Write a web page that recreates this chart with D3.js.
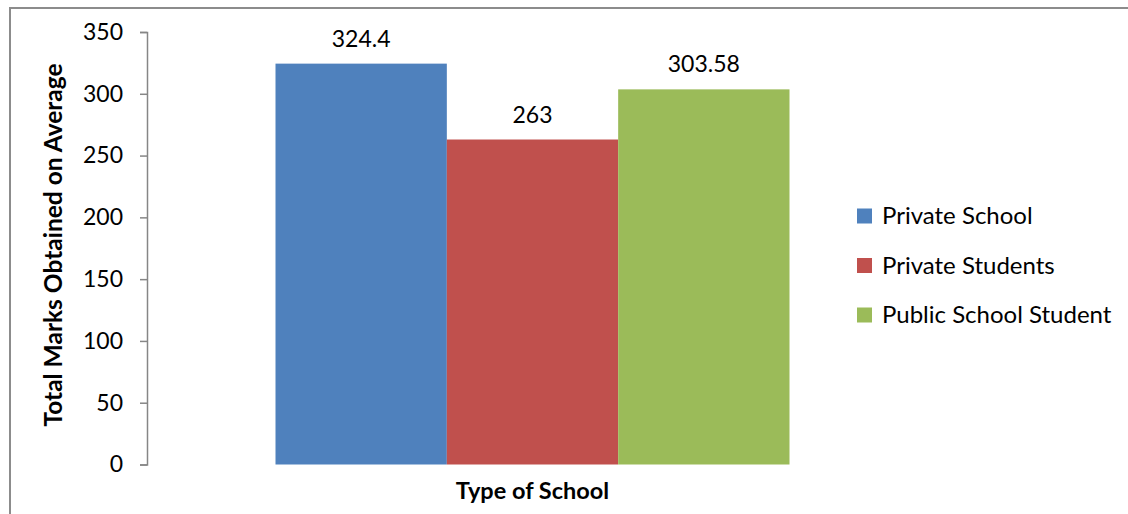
<!DOCTYPE html>
<html>
<head>
<meta charset="utf-8">
<script src="https://cdn.jsdelivr.net/npm/d3@7"></script>
<style>
  body { margin: 0; background: #fff; }
  text { font-family: Lato, "Open Sans", sans-serif; fill: #000; }
</style>
</head>
<body>
<div id="chart"></div>
<script>
const categories = ["Type of School"];
const seriesNames = ["Private School", "Private Students", "Public School Student"];
const seriesValues = [324.4, 263, 303.58];
const seriesLabels = ["324.4", "263", "303.58"];
const yTicks = [0, 50, 100, 150, 200, 250, 300, 350];
const colors = ["#4F81BD", "#C0504D", "#9BBB59"];

const W = 1128, H = 514;
const plot = {left: 147, right: 918, top: 32, bottom: 464.5};

const svg = d3.select("#chart").append("svg")
    .attr("width", W).attr("height", H);

// outer chart border
svg.append("rect")
    .attr("x", 10).attr("y", 8)
    .attr("width", W + 20).attr("height", H + 20)
    .attr("fill", "none").attr("stroke", "#8c8c8c").attr("stroke-width", 2);

const y = d3.scaleLinear().domain([0, 350]).range([plot.bottom, plot.top]);
const x0 = d3.scaleBand().domain(categories).range([plot.left, plot.right])
    .paddingInner(0).paddingOuter(0.25);
const x1 = d3.scaleBand().domain(seriesNames).range([0, x0.bandwidth()]);

// y axis
const yAxis = svg.append("g")
    .attr("transform", `translate(${plot.left},0)`)
    .call(d3.axisLeft(y).tickValues(yTicks).tickSize(7).tickPadding(17).tickSizeOuter(7));
yAxis.select(".domain").attr("stroke", "#868686").attr("stroke-width", 1.5);
yAxis.selectAll(".tick line").attr("stroke", "#868686").attr("stroke-width", 1.5);
yAxis.selectAll(".tick text").style("font-size", "23px").attr("fill", "#000");

// bars
const group = svg.append("g").selectAll("g")
    .data(categories).enter().append("g")
    .attr("transform", d => `translate(${x0(d)},0)`);

const barData = seriesNames.map((s, i) => ({name: s, value: seriesValues[i], label: seriesLabels[i], color: colors[i]}));

group.selectAll("rect")
    .data(barData)
    .enter().append("rect")
    .attr("x", d => x1(d.name))
    .attr("y", d => y(d.value))
    .attr("width", x1.bandwidth())
    .attr("height", d => y(0) - y(d.value))
    .attr("fill", d => d.color);

group.selectAll("text.value")
    .data(barData)
    .enter().append("text")
    .attr("class", "value")
    .attr("x", d => x1(d.name) + x1.bandwidth() / 2)
    .attr("y", d => y(d.value) - 17)
    .attr("text-anchor", "middle")
    .style("font-size", "23px")
    .text(d => d.label);

// axis titles
svg.append("text")
    .attr("x", x0(categories[0]) + x0.bandwidth() / 2)
    .attr("y", 499)
    .attr("text-anchor", "middle")
    .style("font-size", "23.5px").style("font-weight", "bold")
    .text("Type of School");

svg.append("text")
    .attr("transform", `translate(62,245) rotate(-90)`)
    .attr("text-anchor", "middle")
    .style("font-size", "24.5px").style("font-weight", "bold")
    .text("Total Marks Obtained on Average");

// legend
const legend = svg.append("g").selectAll("g")
    .data(seriesNames).enter().append("g")
    .attr("transform", (d, i) => `translate(857,${216 + i * 49.5})`);
legend.append("rect")
    .attr("x", 0).attr("y", -7.5)
    .attr("width", 15).attr("height", 15)
    .attr("fill", (d, i) => colors[i]);
legend.append("text")
    .attr("x", 25).attr("y", 0).attr("dy", "0.35em")
    .style("font-size", "24px")
    .text(d => d);
</script>
</body>
</html>
